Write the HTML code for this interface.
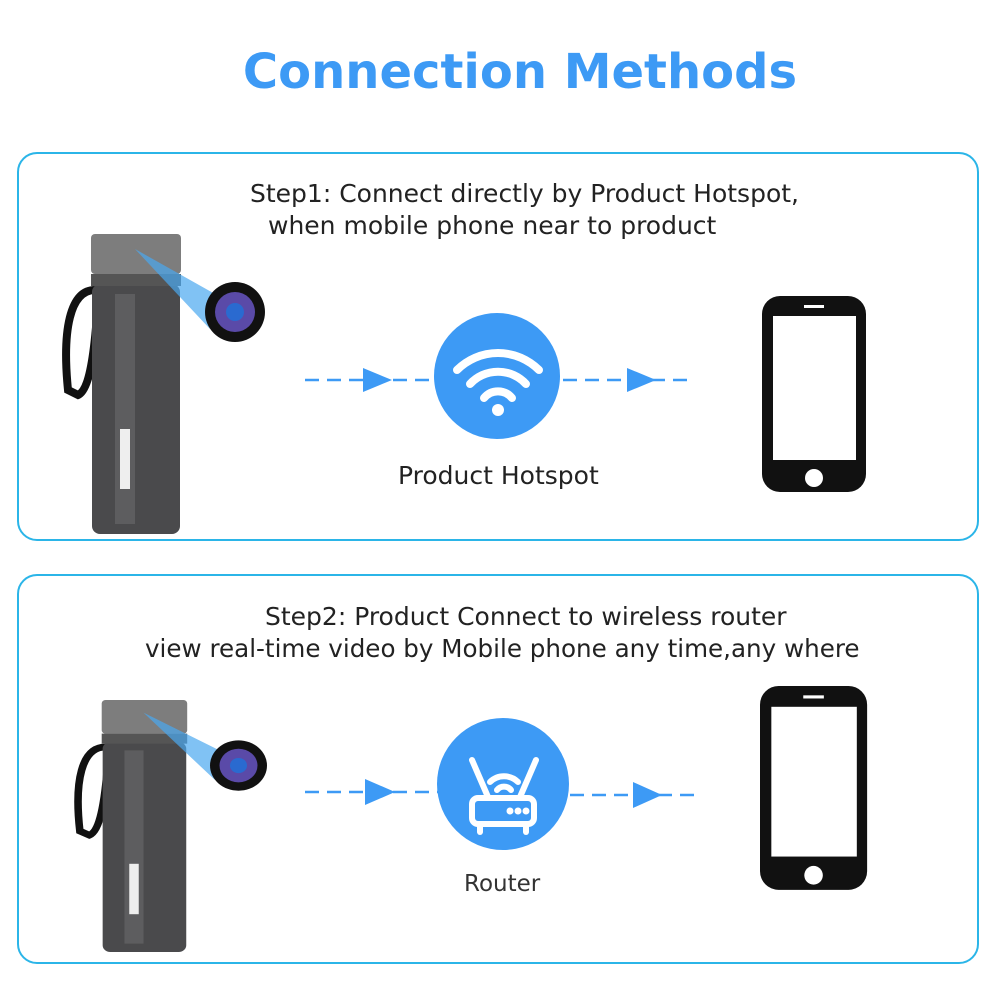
<!DOCTYPE html>
<html><head><style>
body{margin:0;width:1000px;height:1000px;background:#fff;position:relative;overflow:hidden;font-family:"DejaVu Sans","Liberation Sans",sans-serif}
.t{position:absolute;white-space:nowrap;color:#222}
.panel{position:absolute;left:17px;width:958px;border:2.5px solid #2bb5e8;border-radius:20px}
</style></head><body>
<div class="t" style="left:0;width:1040px;text-align:center;top:44px;font-size:48px;font-weight:bold;color:#3d9af5;font-family:'DejaVu Sans',sans-serif">Connection Methods</div>
<div class="panel" style="top:152px;height:385px"></div>
<div class="panel" style="top:574px;height:386px"></div>
<div class="t" style="left:250px;top:179px;font-size:25px">Step1: Connect directly by Product Hotspot,</div>
<div class="t" style="left:268px;top:211px;font-size:25px">when mobile phone near to product</div>
<div class="t" style="left:398px;top:461px;font-size:25px">Product Hotspot</div>
<div class="t" style="left:265px;top:602px;font-size:25px">Step2: Product Connect to wireless router</div>
<div class="t" style="left:145px;top:634px;font-size:24.6px">view real-time video by Mobile phone any time,any where</div>
<div class="t" style="left:464px;top:871px;font-size:23px;color:#333">Router</div>
<svg width="1000" height="1000" style="position:absolute;left:0;top:0">
<defs>
<g id="bottle">
<path d="M30 56 C5 56 -3 96 3 156 L13 161 C25 156 30 116 33 66" fill="none" stroke="#111" stroke-width="8"/>
<rect x="27" y="50" width="88" height="250" rx="8" fill="#4a4a4c"/>
<rect x="50" y="60" width="20" height="230" fill="#6a6a6c" opacity=".6"/>
<rect x="26" y="0" width="90" height="40" rx="4" fill="#7d7d7d"/>
<rect x="26" y="40" width="90" height="12" fill="#555"/>
<rect x="55" y="195" width="10" height="60" fill="#eee"/>
<path d="M70 15 L150 60 L145 95 Z" fill="#4aa8f0" opacity=".7"/>
<circle cx="170" cy="78" r="30" fill="#111"/>
<circle cx="170" cy="78" r="20" fill="#5a4aa8"/>
<circle cx="170" cy="78" r="9" fill="#2a6ad0"/>
</g>
<g id="phone">
<rect x="0" y="0" width="104" height="196" rx="18" fill="#111"/>
<rect x="11" y="20" width="83" height="144" fill="#fff"/>
<circle cx="52" cy="182" r="9" fill="#fff"/>
<rect x="42" y="9" width="20" height="3" fill="#fff"/>
</g>
</defs>
<use href="#bottle" x="65" y="234"/>
<g transform="translate(77,700) scale(0.95,0.84)"><use href="#bottle"/></g>
<use href="#phone" x="762" y="296"/>
<g transform="translate(760,686) scale(1.03,1.04)"><use href="#phone"/></g>
<g stroke="#3d9af5" stroke-width="2.5" stroke-dasharray="14,8" fill="none">
<line x1="305" y1="380" x2="432" y2="380"/><line x1="563" y1="380" x2="692" y2="380"/>
<line x1="305" y1="792" x2="438" y2="792"/><line x1="570" y1="795" x2="700" y2="795"/>
</g>
<g fill="#3d9af5">
<path d="M363 368 L392 380 L363 392Z"/><path d="M627 368 L656 380 L627 392Z"/>
<path d="M365 779 L395 792 L365 805Z"/><path d="M633 782 L662 795 L633 808Z"/>
<circle cx="497" cy="376" r="63"/><circle cx="503" cy="784" r="66"/>
</g>
<g fill="none" stroke="#fff" stroke-width="8" stroke-linecap="round">
<path d="M457 370 A58 58 0 0 1 539 370"/><path d="M470 384 A38 38 0 0 1 526 384"/><path d="M484 398 A18 18 0 0 1 512 398"/>
</g>
<circle cx="498" cy="410" r="6" fill="#fff"/>
<g fill="none" stroke="#fff" stroke-width="6" stroke-linecap="round">
<rect x="472" y="798" width="62" height="26" rx="6"/>
<line x1="472" y1="760" x2="488" y2="797"/><line x1="536" y1="760" x2="520" y2="797"/>
<path d="M490 782 A20 20 0 0 1 518 782"/><path d="M497 790 A9 9 0 0 1 511 790"/>
<line x1="480" y1="826" x2="480" y2="832"/><line x1="526" y1="826" x2="526" y2="832"/>
</g>
<g fill="#fff"><circle cx="510" cy="811" r="3.5"/><circle cx="518" cy="811" r="3.5"/><circle cx="526" cy="811" r="3.5"/></g>
</svg>
</body></html>
